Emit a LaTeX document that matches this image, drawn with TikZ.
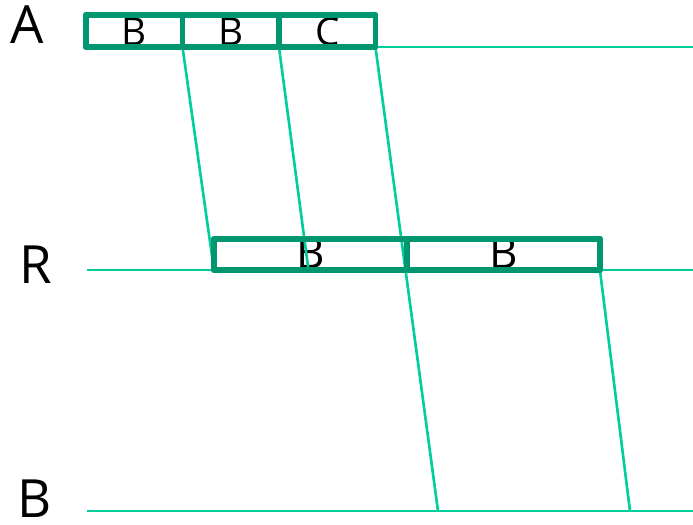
\documentclass[tikz,border=0pt]{standalone}
\usepackage{fontspec}
\setmainfont{Open Sans}
\usetikzlibrary{positioning}
\definecolor{boxgreen}{RGB}{0,150,112}
\definecolor{linegreen}{RGB}{0,206,155}
\begin{document}
\begin{tikzpicture}[x=0.02cm, y=-0.02cm,
  track/.style={linegreen, line width=1.6pt},
  hop/.style={linegreen, line width=1.5pt},
  cell/.style={draw=boxgreen, line width=3pt, line join=round, inner sep=0pt, outer sep=0pt,
    text height=0.57cm, text depth=0pt},
  acell/.style={cell, minimum width=1.93cm, minimum height=0.64cm, font=\fontsize{22}{24}\selectfont},
  rcell/.style={cell, minimum width=3.86cm, minimum height=0.62cm, font=\fontsize{25}{27}\selectfont},
  hostlabel/.style={anchor=base, inner sep=0pt, font=\fontsize{30}{32}\selectfont}]
  \useasboundingbox (0,0) rectangle (693,524);
  % host labels
  \node[hostlabel] (nA) at (27,43) {A};
  \node[hostlabel] (nR) at (36,283) {R};
  \node[hostlabel] (nB) at (35,517) {B};
  % cells on A and R
  \node[acell, anchor=south west] (a1) at (86,47) {B};
  \node[acell, right=0pt of a1] (a2) {B};
  \node[acell, right=0pt of a2] (a3) {C};
  \node[rcell, anchor=south west] (r1) at (214,270) {B};
  \node[rcell, right=0pt of r1] (r2) {B};
  % time lines
  \coordinate (aEnd) at (693,47);
  \coordinate (rStart) at (87,270); \coordinate (rEnd) at (693,270);
  \coordinate (bStart) at (87,511); \coordinate (bEnd) at (693,511);
  \coordinate (b1) at (438,511); \coordinate (b2) at (630,511);
  \draw[track] (a3.south east) -- (aEnd);
  \draw[track] (rStart) -- (r1.south west);
  \draw[track] (r2.south east) -- (rEnd);
  \draw[track] (bStart) -- (bEnd);
  % transfers
  \draw[hop] (a1.south east) -- (r1.south west);
  \draw[hop] (a2.south east) -- ([xshift=-0.04cm]r1.south);
  \draw[hop] (a3.south east) -- (b1);
  \draw[hop] (r2.south east) -- (b2);
  % redraw borders over the lines
  \foreach \c in {a1,a2,a3,r1,r2}
    \draw[boxgreen, line width=3pt, line join=round] (\c.south west) rectangle (\c.north east);
\end{tikzpicture}
\end{document}
